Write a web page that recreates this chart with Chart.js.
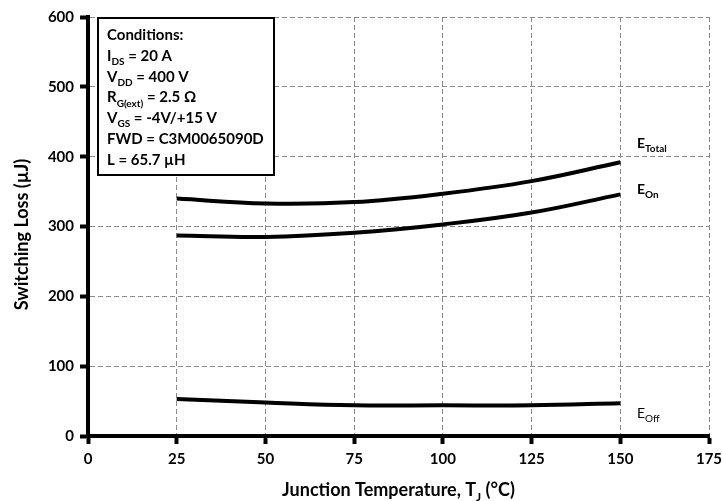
<!DOCTYPE html>
<html>
<head>
<meta charset="utf-8">
<script src="https://cdn.jsdelivr.net/npm/chart.js@4.4.1/dist/chart.umd.min.js"></script>
<style>
  html, body { margin: 0; padding: 0; background: #fff; }
  #wrap { width: 722px; height: 501px; }
</style>
</head>
<body>
<div id="wrap"><canvas id="lossChart" width="722" height="501"></canvas></div>
<script>
// values
const temps = [25, 50, 75, 100, 125, 150]
const eTotal = [340, 333, 335, 347, 365, 392]
const eOn = [287, 285, 291, 303, 320, 346]
const eOff = [53, 48, 44, 44, 44, 47]

const xTicks = [0, 25, 50, 75, 100, 125, 150, 175]
const yTicks = [0, 100, 200, 300, 400, 500, 600]

const conditions = [
    [['Conditions:', 0]],
    [['I', 0], ['DS', 1], [' = 20 A', 0]],
    [['V', 0], ['DD', 1], [' = 400 V', 0]],
    [['R', 0], ['G(ext)', 1], [' = 2.5 Ω', 0]],
    [['V', 0], ['GS', 1], [' = -4V/+15 V', 0]],
    [['FWD = C3M0065090D', 0]],
    [['L = 65.7 µH', 0]]
]

const FONT = 'Lato, "Open Sans", sans-serif'

const toPoints = (ys) => temps.map((t, i) => ({ x: t, y: ys[i] }))

// draws text with subscript parts, returns end x
function drawRich(ctx, parts, x, y, size, weight) {
    let cx = x
    parts.forEach(([txt, sub]) => {
        const s = sub ? Math.round(size * 0.68) : size
        ctx.font = weight + ' ' + s + 'px ' + FONT
        ctx.fillText(txt, cx, sub ? y + size * 0.28 : y)
        cx += ctx.measureText(txt).width
    })
    return cx
}

function richWidth(ctx, parts, size, weight) {
    let w = 0
    parts.forEach(([txt, sub]) => {
        const s = sub ? Math.round(size * 0.68) : size
        ctx.font = weight + ' ' + s + 'px ' + FONT
        w += ctx.measureText(txt).width
    })
    return w
}

const extras = {
    id: 'extras',
    afterDraw(chart) {
        const ctx = chart.ctx
        const area = chart.chartArea
        const xs = chart.scales.x
        const ys = chart.scales.y
        ctx.save()
        ctx.fillStyle = '#000'
        ctx.textBaseline = 'alphabetic'
        ctx.textAlign = 'left'

        // conditions box
        const bx = area.left + 10, by = area.top + 1
        ctx.fillStyle = '#fff'
        ctx.fillRect(bx, by, 176, 157)
        ctx.strokeStyle = '#000'
        ctx.lineWidth = 2
        ctx.strokeRect(bx, by, 176, 157)
        ctx.fillStyle = '#000'
        conditions.forEach((line, i) => {
            drawRich(ctx, line, bx + 9, by + 22 + i * 20.8, 15, 'bold')
        })

        // curve labels
        const labels = [
            { parts: [['E', 0], ['Total', 1]], x: 154.7, y: 413, w: 'bold' },
            { parts: [['E', 0], ['On', 1]], x: 154.7, y: 346, w: 'bold' },
            { parts: [['E', 0], ['Off', 1]], x: 154.7, y: 26, w: 'normal' }
        ]
        labels.forEach(l => {
            drawRich(ctx, l.parts, xs.getPixelForValue(l.x), ys.getPixelForValue(l.y), 14, l.w)
        })

        // x title
        const xt = [['Junction Temperature, T', 0], ['J', 1], [' (°C)', 0]]
        const xw = richWidth(ctx, xt, 18, 'bold')
        drawRich(ctx, xt, (area.left + area.right) / 2 - xw / 2, 496, 18, 'bold')

        // y title
        ctx.translate(28, (area.top + area.bottom) / 2 + 8)
        ctx.rotate(-Math.PI / 2)
        ctx.font = 'bold 18px ' + FONT
        ctx.textAlign = 'center'
        ctx.fillText('Switching Loss (µJ)', 0, 0)
        ctx.restore()
    }
}

const axisStyle = (ticks) => ({
    type: 'linear',
    min: ticks[0],
    max: ticks[ticks.length - 1],
    afterBuildTicks: (scale) => { scale.ticks = ticks.map(v => ({ value: v })) },
    ticks: {
        color: '#000',
        font: { family: FONT, size: 15, weight: 'bold' },
        padding: 6
    },
    grid: {
        color: '#8a8a8a',
        lineWidth: 1,
        tickLength: 8,
        tickWidth: 4,
        tickColor: '#000'
    },
    border: {
        color: '#000',
        width: 4,
        dash: [5, 3],
        z: 1
    }
})

const xAxis = axisStyle(xTicks)
xAxis.afterFit = (scale) => {
    scale.height = 65
    scale.paddingRight = 0
}
const yAxis = axisStyle(yTicks)
yAxis.afterFit = (scale) => { scale.width = 88 }

const lineSet = (label, ys) => ({
    label: label,
    data: toPoints(ys),
    borderColor: '#000',
    borderWidth: 4,
    pointRadius: 0,
    tension: 0.4,
    fill: false
})

new Chart(document.getElementById('lossChart').getContext('2d'), {
    type: 'line',
    data: {
        datasets: [
            lineSet('E Total', eTotal),
            lineSet('E On', eOn),
            lineSet('E Off', eOff)
        ]
    },
    options: {
        responsive: false,
        animation: false,
        layout: { padding: { top: 17, right: 13, left: 0, bottom: 0 } },
        plugins: {
            legend: { display: false },
            tooltip: { enabled: false }
        },
        scales: { x: xAxis, y: yAxis }
    },
    plugins: [extras]
})
</script>
</body>
</html>
